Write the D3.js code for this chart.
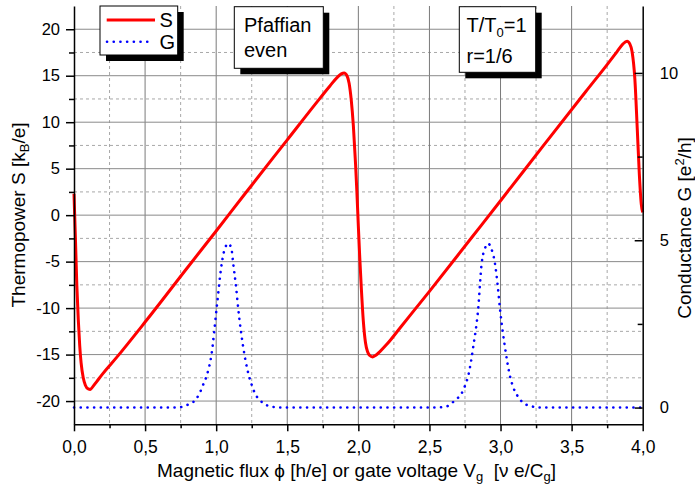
<!DOCTYPE html>
<html>
<head>
<meta charset="utf-8">
<script src="https://cdn.jsdelivr.net/npm/d3@7"></script>
<style>
  body { margin: 0; background: #fff; }
  svg { display: block; font-family: "Liberation Sans", Arial, sans-serif; }
</style>
</head>
<body>
<svg id="chart" width="695" height="486"></svg>
<script>
// thermopower S (red, left axis)
var sX = [0, 0.01, 0.02, 0.03, 0.04, 0.05, 0.065, 0.08, 0.1, 0.115, 0.13, 0.16, 0.2, 0.3, 0.5, 0.8, 1.0, 1.2, 1.5, 1.7, 1.8, 1.85, 1.88, 1.9, 1.92, 1.935, 1.95, 1.965, 1.98, 1.99, 2.0, 2.01, 2.02, 2.035, 2.05, 2.065, 2.08, 2.1, 2.12, 2.15, 2.2, 2.3, 2.5, 2.8, 3.0, 3.3, 3.6, 3.75, 3.82, 3.86, 3.89, 3.91, 3.925, 3.945, 3.962, 3.976, 3.99, 4.0];
var sY = [2.3, -2.5, -7.6, -11.2, -14.0, -15.9, -17.5, -18.3, -18.7, -18.75, -18.5, -17.9, -17.1, -15.3, -11.5, -5.6, -1.7, 2.25, 8.1, 12.0, 13.9, 14.8, 15.2, 15.3, 15.0, 14.2, 12.4, 9.6, 5.6, 2.4, -1.2, -4.6, -7.6, -11.4, -13.7, -14.7, -15.1, -15.25, -15.1, -14.7, -13.9, -12.0, -8.2, -2.35, 1.55, 7.45, 13.3, 16.2, 17.6, 18.4, 18.7, 18.4, 17.6, 14.6, 9.2, 4.5, 1.2, 0.3];

// conductance G (blue dotted, right axis)
var gX = [0, 0.7, 0.76, 0.79, 0.84, 0.886, 0.91, 0.933, 0.968, 1.003, 1.039, 1.065, 1.088, 1.109, 1.12, 1.14, 1.155, 1.19, 1.226, 1.25, 1.273, 1.308, 1.355, 1.4, 1.45, 2.55, 2.6, 2.64, 2.68, 2.726, 2.75, 2.773, 2.808, 2.843, 2.867, 2.89, 2.914, 2.935, 2.961, 2.98, 2.996, 3.031, 3.066, 3.09, 3.124, 3.16, 3.21, 3.25, 3.3, 4.0];
var gY = [0, 0, 0.02, 0.07, 0.17, 0.45, 0.7, 0.95, 1.61, 2.96, 4.3, 4.8, 4.9, 4.7, 4.3, 3.6, 2.96, 1.81, 1.02, 0.68, 0.42, 0.22, 0.07, 0.02, 0, 0, 0.02, 0.07, 0.22, 0.42, 0.65, 0.95, 1.81, 2.96, 4.3, 4.75, 4.9, 4.75, 4.3, 3.65, 2.96, 1.81, 0.95, 0.6, 0.32, 0.14, 0.05, 0.01, 0, 0];

var xMajor = [0, 0.5, 1, 1.5, 2, 2.5, 3, 3.5, 4];
var xMinor = [0.25, 0.75, 1.25, 1.75, 2.25, 2.75, 3.25, 3.75];
var sMajor = [-20, -15, -10, -5, 0, 5, 10, 15, 20];
var sMinor = [-17.5, -12.5, -7.5, -2.5, 2.5, 7.5, 12.5, 17.5];
var gMajor = [0, 5, 10];
var gMinor = [2.5, 7.5];

var plotL = 74, plotR = 642.7, plotT = 6, plotB = 424.3;

var x = d3.scaleLinear().domain([0, 4]).range([plotL, plotR]);
var yS = d3.scaleLinear().domain([-22.5, 22.5]).range([plotB, plotT]);
var yG = d3.scaleLinear().domain([-0.5, 12]).range([plotB, plotT]);

var komma = d3.formatLocale({decimal: ",", thousands: ".", grouping: [3], currency: ["", ""]});

var svg = d3.select("#chart");

// grid
var grid = svg.append("g");
grid.selectAll(".vmin").data(xMinor).enter().append("line")
	.attr("x1", d => x(d)).attr("x2", d => x(d))
	.attr("y1", plotT).attr("y2", plotB)
	.attr("stroke", "#a8a8a8").attr("stroke-dasharray", "3,3");
grid.selectAll(".hmin").data(sMinor).enter().append("line")
	.attr("x1", plotL).attr("x2", plotR)
	.attr("y1", d => yS(d)).attr("y2", d => yS(d))
	.attr("stroke", "#a8a8a8").attr("stroke-dasharray", "3,3");
grid.selectAll(".vmaj").data(xMajor.slice(1, -1)).enter().append("line")
	.attr("x1", d => x(d)).attr("x2", d => x(d))
	.attr("y1", plotT).attr("y2", plotB)
	.attr("stroke", "#7a7a7a");
grid.selectAll(".hmaj").data(sMajor).enter().append("line")
	.attr("x1", plotL).attr("x2", plotR)
	.attr("y1", d => yS(d)).attr("y2", d => yS(d))
	.attr("stroke", "#8a8a8a");

// curves
var lineS = d3.line().x((d, i) => x(sX[i])).y(d => yS(d)).curve(d3.curveMonotoneX);
var lineG = d3.line().x((d, i) => x(gX[i])).y(d => yG(d)).curve(d3.curveMonotoneX);

svg.append("path").attr("d", lineG(gY))
	.attr("fill", "none").attr("stroke", "#0000ff").attr("stroke-width", 2.6)
	.attr("stroke-linecap", "round").attr("stroke-dasharray", "0.1,6.6");
svg.append("path").attr("d", lineS(sY))
	.attr("fill", "none").attr("stroke", "#ff0000").attr("stroke-width", 3)
	.attr("stroke-linejoin", "round");

// axes
function styleAxis(g) {
	g.selectAll("path").attr("stroke", "#000").attr("stroke-width", 1.5);
	g.selectAll("line").attr("stroke", "#000").attr("stroke-width", 1.5);
	g.selectAll("text").attr("fill", "#000");
}

var xAxis = svg.append("g").attr("transform", "translate(0," + plotB + ")")
	.call(d3.axisBottom(x).tickValues(xMajor).tickSize(7).tickSizeOuter(0).tickPadding(9)
		.tickFormat(komma.format(".1f")));
xAxis.selectAll("text").attr("font-size", 17.5);
styleAxis(xAxis);
svg.append("g").attr("transform", "translate(0," + plotB + ")")
	.call(d3.axisBottom(x).tickValues(xMinor).tickSize(4).tickFormat(""))
	.call(g => g.select(".domain").remove()).call(styleAxis);

var sAxis = svg.append("g").attr("transform", "translate(" + plotL + ",0)")
	.call(d3.axisLeft(yS).tickValues(sMajor).tickSize(8).tickSizeOuter(0).tickPadding(6)
		.tickFormat(d3.format("d")));
sAxis.selectAll("text").attr("font-size", 16.5).text(d => String(d));
styleAxis(sAxis);
svg.append("g").attr("transform", "translate(" + plotL + ",0)")
	.call(d3.axisLeft(yS).tickValues(sMinor).tickSize(5).tickFormat(""))
	.call(g => g.select(".domain").remove()).call(styleAxis);

var gAxis = svg.append("g").attr("transform", "translate(" + plotR + ",0)")
	.call(d3.axisRight(yG).tickValues(gMajor).tickSize(-8).tickSizeOuter(0).tickPadding(17)
		.tickFormat(d3.format("d")));
gAxis.selectAll("text").attr("font-size", 16.5);
styleAxis(gAxis);
svg.append("g").attr("transform", "translate(" + plotR + ",0)")
	.call(d3.axisRight(yG).tickValues(gMinor).tickSize(-5).tickFormat(""))
	.call(g => g.select(".domain").remove()).call(styleAxis);

// axis titles
var xt = svg.append("text").attr("x", 356.5).attr("y", 476.5)
	.attr("text-anchor", "middle").attr("font-size", 19);
xt.append("tspan").text("Magnetic flux \u03d5 [h/e] or gate voltage V");
xt.append("tspan").attr("font-size", 13).attr("dy", 4).text("g");
xt.append("tspan").attr("dy", -4).text("\u00a0 [\u03bd e/C");
xt.append("tspan").attr("font-size", 13).attr("dy", 4).text("g");
xt.append("tspan").attr("dy", -4).text("]");

var yt = svg.append("text").attr("transform", "translate(24.5,215) rotate(-90)")
	.attr("text-anchor", "middle").attr("font-size", 19);
yt.append("tspan").text("Thermopower S [k");
yt.append("tspan").attr("font-size", 13).attr("dy", 4).text("B");
yt.append("tspan").attr("dy", -4).text("/e]");

var gt = svg.append("text").attr("transform", "translate(691,228) rotate(-90)")
	.attr("text-anchor", "middle").attr("font-size", 19);
gt.append("tspan").text("Conductance G [e");
gt.append("tspan").attr("font-size", 13).attr("dy", -7).text("2");
gt.append("tspan").attr("dy", 7).text("/h]");

// boxes with drop shadow
function box(x0, y0, w, h) {
	svg.append("rect").attr("x", x0 + 6).attr("y", y0 + 6).attr("width", w).attr("height", h)
		.attr("fill", "#000");
	svg.append("rect").attr("x", x0).attr("y", y0).attr("width", w).attr("height", h)
		.attr("fill", "#fff").attr("stroke", "#000").attr("stroke-width", 1);
}

// legend
box(100, 6, 77.7, 49);
svg.append("line").attr("x1", 106.7).attr("x2", 155).attr("y1", 20).attr("y2", 20)
	.attr("stroke", "#ff0000").attr("stroke-width", 3);
svg.append("line").attr("x1", 107).attr("x2", 150).attr("y1", 41.7).attr("y2", 41.7)
	.attr("stroke", "#0000ff").attr("stroke-width", 2.6)
	.attr("stroke-linecap", "round").attr("stroke-dasharray", "0.1,6.6");
svg.append("text").attr("x", 159.5).attr("y", 27).attr("font-size", 20).text("S");
svg.append("text").attr("x", 159.5).attr("y", 49).attr("font-size", 20).text("G");

// Pfaffian even
box(234.3, 6.7, 89, 61.6);
svg.append("text").attr("x", 244).attr("y", 31.7).attr("font-size", 20).text("Pfaffian");
svg.append("text").attr("x", 244).attr("y", 56.7).attr("font-size", 20).text("even");

// T/T0, r
box(459.3, 6.7, 76.4, 65.6);
var tt = svg.append("text").attr("x", 466.5).attr("y", 31.7).attr("font-size", 20);
tt.append("tspan").text("T/T");
tt.append("tspan").attr("font-size", 13).attr("dy", 5).text("0");
tt.append("tspan").attr("dy", -5).text("=1");
svg.append("text").attr("x", 466.5).attr("y", 63.3).attr("font-size", 20).text("r=1/6");
</script>
</body>
</html>
